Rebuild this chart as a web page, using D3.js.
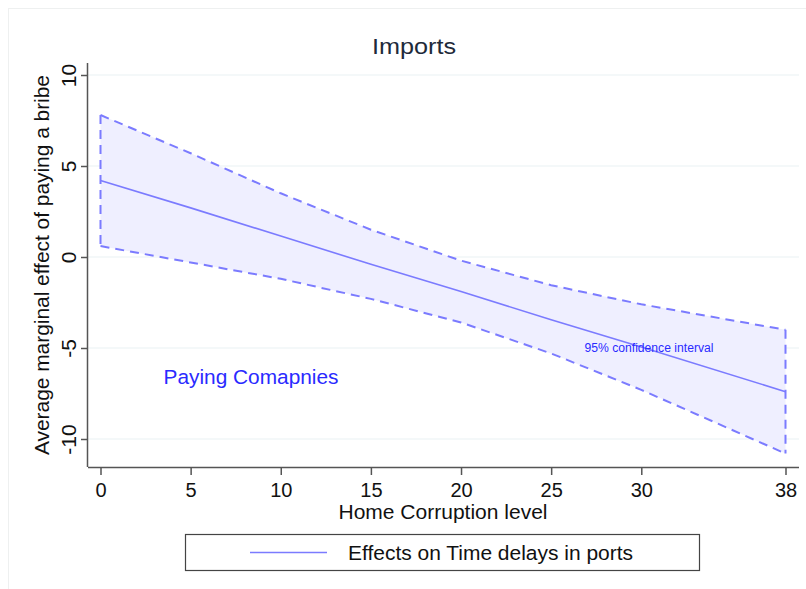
<!DOCTYPE html>
<html>
<head>
<meta charset="utf-8">
<script src="https://cdn.jsdelivr.net/npm/d3@7"></script>
<style>
  html, body { margin: 0; padding: 0; background: #fff; }
  svg { display: block; font-family: "Liberation Sans", Arial, sans-serif; }
</style>
</head>
<body>
<svg id="chart" width="806" height="589"></svg>
<script>
// Home corruption level at which the marginal effect was evaluated
const corruption = [0, 5, 10, 15, 20, 25, 30, 38];
// Average marginal effect of paying a bribe (point estimate)
const effect = [4.2, 2.7, 1.15, -0.4, -1.9, -3.45, -4.95, -7.4];
// 95% confidence bounds
const upperCI = [7.8, 5.7, 3.5, 1.5, -0.2, -1.55, -2.6, -4.0];
const lowerCI = [0.6, -0.3, -1.2, -2.3, -3.6, -5.3, -7.3, -10.8];

const xTicks = [0, 5, 10, 15, 20, 25, 30, 38];
const yTicks = [10, 5, 0, -5, -10];

const title = "Imports";
const xTitle = "Home Corruption level";
const yTitle = "Average marginal effect of paying a bribe";
const legendLabel = "Effects on Time delays in ports";
const ciNote = "95% confidence interval";
const groupNote = "Paying Comapnies";

const rows = corruption.map((c, i) => ({ c, m: effect[i], hi: upperCI[i], lo: lowerCI[i] }));

const svg = d3.select("#chart");
const lineBlue = "#7b7bff";
const fillBlue = "#efefff";
const tickFmt = d => String(d); // plain hyphen for negatives

// faint outer frame
svg.append("rect")
  .attr("x", 8.5).attr("y", 8.5).attr("width", 806).attr("height", 600)
  .attr("fill", "none").attr("stroke", "#eef0f0").attr("stroke-width", 1);

const plotLeft = 88, plotRight = 799, plotTop = 63, plotBottom = 467;

const x = d3.scaleLinear().domain([0, 38]).range([100.5, 785.5]);
const y = d3.scaleLinear().domain([-10, 10]).range([439, 75]);

// horizontal gridlines
svg.append("g").selectAll("line").data(yTicks).join("line")
  .attr("x1", plotLeft).attr("x2", plotRight)
  .attr("y1", d => y(d)).attr("y2", d => y(d))
  .attr("stroke", "#eaf2f3").attr("stroke-width", 1.2);

// confidence band
svg.append("path").datum(rows)
  .attr("d", d3.area().x(d => x(d.c)).y0(d => y(d.lo)).y1(d => y(d.hi)))
  .attr("fill", fillBlue).attr("stroke", "none");

// dashed CI outline: upper bound, lower bound, and the two vertical ends
const dash = "9,6";
const lineGen = acc => d3.line().x(d => x(d.c)).y(d => y(acc(d)));
svg.append("path").datum(rows).attr("d", lineGen(d => d.hi))
  .attr("fill", "none").attr("stroke", lineBlue).attr("stroke-width", 2).attr("stroke-dasharray", dash);
svg.append("path").datum(rows).attr("d", lineGen(d => d.lo))
  .attr("fill", "none").attr("stroke", lineBlue).attr("stroke-width", 2).attr("stroke-dasharray", dash);
[rows[0], rows[rows.length - 1]].forEach(r => {
  svg.append("line")
    .attr("x1", x(r.c)).attr("x2", x(r.c))
    .attr("y1", y(r.hi)).attr("y2", y(r.lo))
    .attr("stroke", lineBlue).attr("stroke-width", 2).attr("stroke-dasharray", dash);
});

// point estimate
svg.append("path").datum(rows).attr("d", lineGen(d => d.m))
  .attr("fill", "none").attr("stroke", lineBlue).attr("stroke-width", 1.6);

// axes
const yAxis = d3.axisLeft(y).tickValues(yTicks).tickSize(7).tickFormat(tickFmt);
const gy = svg.append("g").attr("transform", `translate(${plotLeft},0)`).call(yAxis);
gy.select(".domain").attr("d", `M-0.5,${plotTop}V${plotBottom}`).attr("stroke", "#555").attr("stroke-width", 1.5);
gy.selectAll(".tick line").attr("stroke", "#555").attr("stroke-width", 1.5);
gy.selectAll(".tick text")
  .attr("x", 0).attr("y", 0).attr("dy", null)
  .attr("text-anchor", "middle")
  .attr("font-size", 21).attr("fill", "#111")
  .attr("transform", "translate(-12,0) rotate(-90)");

const xAxis = d3.axisBottom(x).tickValues(xTicks).tickSize(8).tickFormat(tickFmt);
const gx = svg.append("g").attr("transform", `translate(0,${plotBottom})`).call(xAxis);
gx.select(".domain").attr("d", `M${plotLeft},0.5H${plotRight}`).attr("stroke", "#555").attr("stroke-width", 1.5);
gx.selectAll(".tick line").attr("stroke", "#555").attr("stroke-width", 1.5);
gx.selectAll(".tick text").attr("y", 16).attr("font-size", 20).attr("fill", "#111");

// titles
svg.append("text").attr("x", 414).attr("y", 54).attr("text-anchor", "middle")
  .attr("font-size", 22).attr("fill", "#1e2a3a").attr("textLength", 84).attr("lengthAdjust", "spacingAndGlyphs")
  .text(title);
svg.append("text").attr("x", 443).attr("y", 519).attr("text-anchor", "middle")
  .attr("font-size", 20.5).attr("fill", "#111").attr("textLength", 209).attr("lengthAdjust", "spacingAndGlyphs")
  .text(xTitle);
svg.append("text").attr("transform", "translate(49,265) rotate(-90)").attr("text-anchor", "middle")
  .attr("font-size", 20.5).attr("fill", "#111").attr("textLength", 380).attr("lengthAdjust", "spacingAndGlyphs")
  .text(yTitle);

// annotations
svg.append("text").attr("x", 649).attr("y", 352).attr("text-anchor", "middle")
  .attr("font-size", 12).attr("fill", "#2a2aff").attr("textLength", 129).attr("lengthAdjust", "spacingAndGlyphs")
  .text(ciNote);
svg.append("text").attr("x", 251).attr("y", 384).attr("text-anchor", "middle")
  .attr("font-size", 20.5).attr("fill", "#2a2aff").attr("textLength", 175).attr("lengthAdjust", "spacingAndGlyphs")
  .text(groupNote);

// legend
svg.append("rect").attr("x", 185.5).attr("y", 534.5).attr("width", 514).attr("height", 36)
  .attr("fill", "#fff").attr("stroke", "#444").attr("stroke-width", 1.2);
svg.append("line").attr("x1", 250).attr("x2", 327).attr("y1", 552.5).attr("y2", 552.5)
  .attr("stroke", lineBlue).attr("stroke-width", 1.6);
svg.append("text").attr("x", 348).attr("y", 560).attr("font-size", 20.5).attr("fill", "#111")
  .attr("textLength", 285).attr("lengthAdjust", "spacingAndGlyphs")
  .text(legendLabel);
</script>
</body>
</html>
